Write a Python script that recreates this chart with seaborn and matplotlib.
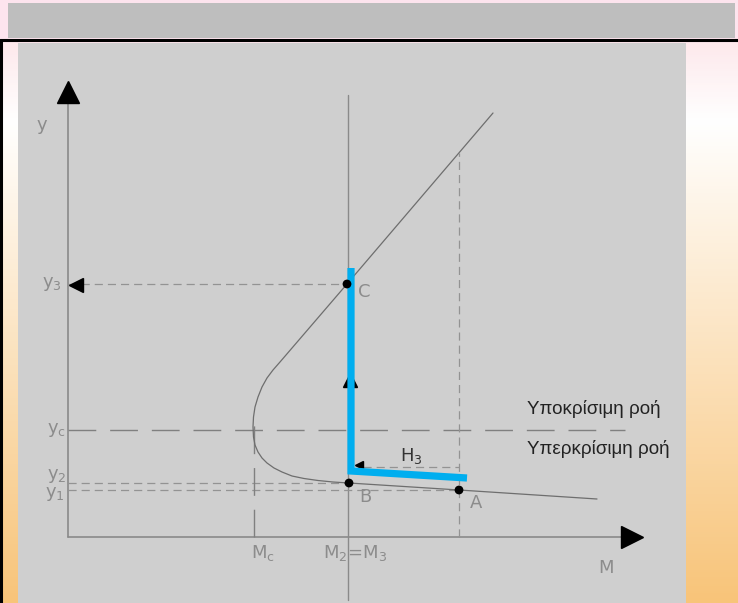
import numpy as np
import matplotlib
matplotlib.use("Agg")
import matplotlib.pyplot as plt
from matplotlib.colors import LinearSegmentedColormap
from matplotlib.patches import Rectangle
import seaborn as sns

# specific force curve (M, y)
curve_M = [425, 279, 212, 205, 199, 194, 190, 187, 185.5, 185, 185.5, 187,
           190, 194, 199, 206, 214, 224, 236, 250, 265, 281, 391, 529]
curve_y = [424, 253, 175, 167, 159, 150, 140, 130, 120, 110, 100, 92,
           85, 79, 74, 69, 65, 61, 58.5, 56.5, 55, 54, 47, 38]

# marked points
pt_names = ["C", "B", "A"]
pt_M = [279, 281, 391]
pt_y = [253, 54, 47]

# levels
y1, y2, yc, y3 = 47, 54, 107, 253
M_c, M_23, M_A = 186, 280, 391
y_top_A = 384  # where the dashed vertical from A meets the upper branch

# blue path (energy loss H3)
blue_M = [283, 283, 399]
blue_y = [269, 66, 59]

flow_labels = ["Υποκρίσιμη ροή", "Υπερκρίσιμη ροή"]

sns.set_style("white")
plt.rcParams['font.family'] = ['DejaVu Sans']

W, H = 738, 603
fig = plt.figure(figsize=(W / 100, H / 100), dpi=100)

# background: pink -> white -> orange gradient
bg = fig.add_axes([0, 0, 1, 1])
cmap = LinearSegmentedColormap.from_list(
    "bg", [(0, "#fde4ee"), (38 / H, "#fde4ee"), (42 / H, "#fde9ec"),
           (120 / H, "#ffffff"), (1, "#f8c479")])
grad = np.linspace(0, 1, H).reshape(-1, 1)
bg.imshow(grad, aspect="auto", cmap=cmap, extent=[0, W, H, 0])
bg.add_patch(Rectangle((8, 3), 727, 35, color="#bebebe", lw=0))
bg.axhline(39.5, color="black", lw=2.2)
bg.plot([1, 1], [40, H], color="black", lw=2.2)
bg.set_xlim(0, W)
bg.set_ylim(H, 0)
bg.set_axis_off()

# main panel
ax = fig.add_axes([18 / W, 0, 668 / W, 560 / H])
ax.set_facecolor("#cfcfcf")
ax.set_xlim(-50, 618)
ax.set_ylim(-66, 494)
ax.set_xticks([])
ax.set_yticks([])
sns.despine(ax=ax, left=True, bottom=True)

axis_c = "#8a8a8a"
dash_c = "#939393"
short = (0, (6.5, 4))
long = (0, (20, 10))

# coordinate axes with arrow heads
ax.plot([0, 0], [0, 440], color=axis_c, lw=1.2)
ax.plot([0, 560], [0, 0], color=axis_c, lw=1.2)
ax.plot([0], [445], marker="^", ms=16, color="black")
ax.plot([564], [0], marker=">", ms=16, color="black")

# vertical M2=M3 line
ax.plot([M_23, M_23], [-63, 442], color=axis_c, lw=1.0)

# dashed guide lines
ax.plot([0, pt_M[0]], [y3, y3], color=dash_c, lw=0.9, ls=short)
ax.plot([8], [y3 - 1], marker="<", ms=10, color="black")
ax.plot([0, pt_M[1]], [y2, y2], color=dash_c, lw=0.9, ls=short)
ax.plot([0, M_A], [y1, y1], color=dash_c, lw=0.9, ls=short)
ax.plot([0, 557], [yc, yc], color="#808080", lw=1.0, ls=long)
ax.plot([M_c, M_c], [0, 125], color="#808080", lw=1.0, ls=long)
ax.plot([M_A, M_A], [0, y_top_A], color=dash_c, lw=0.9, ls=short)
ax.plot([295, M_A], [70, 70], color=dash_c, lw=0.9, ls=short)

# curve
sns.lineplot(x=curve_M, y=curve_y, sort=False, estimator=None,
             color="#6e6e6e", lw=0.9, ax=ax)

# small arrow heads under the blue path
ax.plot([282], [157], marker="^", ms=10, color="black", zorder=3)
ax.plot([291], [72], marker="<", ms=6, color="black", zorder=3)

# blue path
ax.plot(blue_M, blue_y, color="#00aeef", lw=5.2, solid_joinstyle="miter",
        solid_capstyle="butt", zorder=4)

# points
sns.scatterplot(x=pt_M, y=pt_y, color="black", s=40, edgecolor="none",
                ax=ax, zorder=5)

# labels
lab = dict(color="#8c8c8c", fontsize=13, va="center")
ax.text(-26, 412, "y", ha="center", **lab)
ax.text(-6, 253, r"y$_3$", ha="right", **lab)
ax.text(-2, yc, r"y$_\mathrm{c}$", ha="right", **lab)
ax.text(-1, 61, r"y$_2$", ha="right", **lab)
ax.text(-3, 43, r"y$_1$", ha="right", **lab)
ax.text(195, -16, r"M$_\mathrm{c}$", ha="center", **lab)
ax.text(287, -16, r"M$_2$=M$_3$", ha="center", **lab)
ax.text(538, -31, "M", ha="center", **lab)
ax.text(297, 40, pt_names[1], ha="center", **lab)
ax.text(408, 34, pt_names[2], ha="center", **lab)
ax.text(296, 245, pt_names[0], ha="center", **lab)
ax.text(343, 81, r"H$_3$", ha="center", va="center", color="#333333",
        fontsize=13)
ax.text(459, 128, flow_labels[0], ha="left", va="center", color="#222222",
        fontsize=13.5, family=["Liberation Sans", "DejaVu Sans"])
ax.text(459, 88, flow_labels[1], ha="left", va="center", color="#222222",
        fontsize=13.5, family=["Liberation Sans", "DejaVu Sans"])

fig.savefig("out.png", dpi=100)
